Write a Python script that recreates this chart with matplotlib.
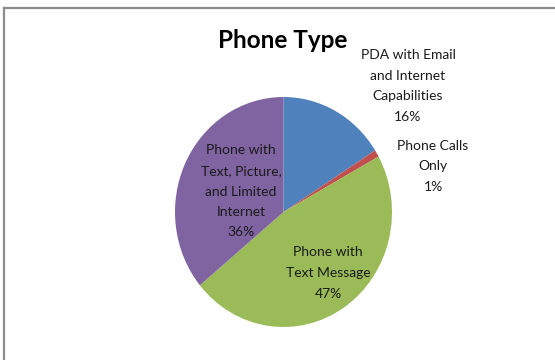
import matplotlib
matplotlib.use("Agg")
import matplotlib.pyplot as plt
from matplotlib.lines import Line2D

plt.rcParams["font.family"] = ["Lato", "DejaVu Sans"]

# phone type shares, clockwise from 12 o'clock
categories = ["PDA with Email\nand Internet\nCapabilities",
              "Phone Calls\nOnly",
              "Phone with\nText Message",
              "Phone with\nText, Picture,\nand Limited\nInternet"]
shares = [16, 1, 47, 36]
colors = ["#4F81BD", "#C0504D", "#9BBB59", "#8064A2"]

W, H = 555, 360
fig = plt.figure(figsize=(W / 100, H / 100), dpi=100, facecolor="white")


def px(x, y):
    return x / W, 1 - y / H


# chart-area border (left and top edges)
fig.add_artist(Line2D([4 / W, 4 / W], [0, 1 - 8 / H], color="#8C8C8C", lw=1.6))
fig.add_artist(Line2D([4 / W, 1], [1 - 8 / H, 1 - 8 / H], color="#8C8C8C", lw=1.6))

# pie sits in a slightly tall box, so it comes out a little oval
ax = fig.add_axes([175 / W, 1 - 327 / H, 217 / W, 230 / H])
ax.pie(shares, colors=colors, startangle=90, counterclock=False, radius=1,
       wedgeprops=dict(linewidth=0))
ax.set_aspect("auto")
ax.set_xlim(-1, 1)
ax.set_ylim(-1, 1)
ax.axis("off")

fig.text(*px(283, 48), "Phone Type", ha="center", va="baseline",
         fontsize=17.5, fontweight="bold", color="black")

label_pos = [(408, 86), (433, 166.5), (328, 273), (241, 191.5)]
for cat, val, (x, y) in zip(categories, shares, label_pos):
    fig.text(*px(x, y), f"{cat}\n{val}%", ha="center", va="center",
             fontsize=10, linespacing=1.85, color="#1A1A1A")

fig.savefig("out.png", dpi=100, facecolor="white")
